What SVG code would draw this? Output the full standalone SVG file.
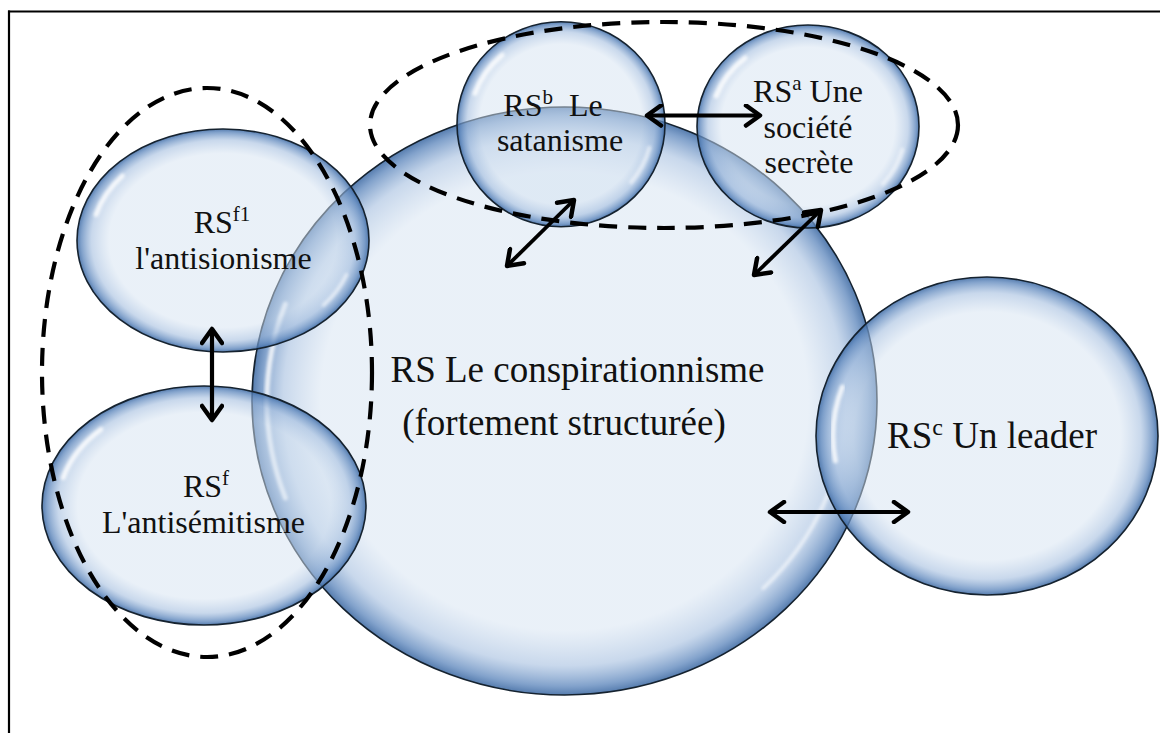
<svg xmlns="http://www.w3.org/2000/svg" width="1160" height="733" viewBox="0 0 1160 733">
<defs>
<radialGradient id="bub" cx="50%" cy="50%" r="50%">
<stop offset="0" stop-color="#d4e2f1" stop-opacity="0.5"/>
<stop offset="0.78" stop-color="#d4e2f1" stop-opacity="0.5"/>
<stop offset="0.9" stop-color="#a4bedf" stop-opacity="0.6"/>
<stop offset="0.97" stop-color="#5f88bd" stop-opacity="0.78"/>
<stop offset="1" stop-color="#3e6aa3" stop-opacity="0.88"/>
</radialGradient>
<filter id="soft" x="-20%" y="-20%" width="140%" height="140%"><feGaussianBlur stdDeviation="1.6"/></filter>
<marker id="ah" viewBox="0 0 20 24" refX="17" refY="12" markerWidth="20" markerHeight="24" markerUnits="userSpaceOnUse" orient="auto-start-reverse">
<path d="M3,2 L17,12 L3,22" fill="none" stroke="#000" stroke-width="4.5" stroke-linecap="round" stroke-linejoin="round"/>
</marker>
</defs>
<style>
.bub{fill:url(#bub);stroke:#15222f;stroke-width:1.6}
.hl{fill:none;stroke:#fff;stroke-width:5;stroke-linecap:round;opacity:0.8;filter:url(#soft)}
.hl2{fill:none;stroke:#fff;stroke-width:4;stroke-linecap:round;opacity:0.55;filter:url(#soft)}
.dash{fill:none;stroke:#000;stroke-width:4.2;stroke-dasharray:18 11}
.arr{fill:none;stroke:#000;stroke-width:4.2;marker-start:url(#ah);marker-end:url(#ah)}
.t{font-family:"Liberation Serif","Times New Roman",serif;fill:#111;text-anchor:middle;font-size:32px}
.tb{font-size:37px}
</style>
<rect width="1160" height="733" fill="#fff"/>
<g id="frame" stroke="#000" stroke-width="2.2" fill="none">
<line x1="8" y1="11.5" x2="1160" y2="11.5"/>
<line x1="9" y1="10.5" x2="9" y2="733"/>
</g>

<g id="rs-conspirationnisme">
<ellipse class="bub" cx="564.5" cy="401" rx="312.5" ry="294"/>
<path class="hl" d="M285.4,498 A296.9 279.3 0 0 1 285.4,304"/>
<path class="hl2" d="M828.9,491.5 A281.25 264.6 0 0 1 763.4,588.1"/>
</g>
<g id="rs-f1">
<ellipse class="bub" cx="223" cy="240.5" rx="146" ry="111.5"/>
<path class="hl" d="M96.1,214.5 A131.4 100.35 0 0 1 122.3,176"/>
<path class="hl2" d="M346.5,274.8 A131.4 100.35 0 0 1 323.7,305"/>
</g>
<g id="rs-f">
<ellipse class="bub" cx="204" cy="505.5" rx="162" ry="119.5"/>
<path class="hl" d="M63.2,477.6 A145.8 107.55 0 0 1 100.9,429.5"/>
</g>
<g id="rs-b">
<ellipse class="bub" cx="561" cy="124.2" rx="104" ry="102.5"/>
<path class="hl" d="M475,93.4 A91.5 90.2 0 0 1 502.2,55.1"/>
<path class="hl2" d="M649.4,147.6 A91.5 90.2 0 0 1 631.1,182.2"/>
</g>
<g id="rs-a">
<ellipse class="bub" cx="808" cy="126.5" rx="111" ry="101.5"/>
<path class="hl" d="M716.2,96 A97.7 89.3 0 0 1 745.2,58.1"/>
<path class="hl2" d="M902.4,149.6 A97.7 89.3 0 0 1 882.8,183.9"/>
</g>
<g id="rs-c">
<ellipse class="bub" cx="987" cy="436" rx="171" ry="159"/>
<path class="hl" d="M835.4,460.9 A153.9 143.1 0 0 1 842.3,387.1"/>
</g>

<g id="groups">
<ellipse class="dash" cx="207" cy="372.5" rx="165" ry="284.5"/>
<ellipse class="dash" cx="664" cy="125" rx="294" ry="103"/>
</g>

<g id="connectors">
<line class="arr" x1="647" y1="115.5" x2="760" y2="115.5"/>
<line class="arr" x1="574" y1="200" x2="507" y2="266" style="stroke-width:3.8"/>
<line class="arr" x1="821" y1="210" x2="754" y2="275" style="stroke-width:3.8"/>
<line class="arr" x1="212" y1="329" x2="212" y2="420"/>
<line class="arr" x1="770" y1="512" x2="908" y2="512"/>
</g>

<g id="labels">
<text class="t" x="553" y="116">RS<tspan font-size="21" dy="-12">b</tspan><tspan dy="12" xml:space="preserve">  Le</tspan></text>
<text class="t" x="560" y="151">satanisme</text>
<text class="t" x="808" y="102">RS<tspan font-size="21" dy="-12">a</tspan><tspan dy="12"> Une</tspan></text>
<text class="t" x="808" y="138">société</text>
<text class="t" x="809" y="173">secrète</text>
<text class="t" x="222" y="233">RS<tspan font-size="21" dy="-12">f1</tspan></text>
<text class="t" x="223.5" y="269">l'antisionisme</text>
<text class="t" x="206" y="497">RS<tspan font-size="21" dy="-12">f</tspan></text>
<text class="t" x="203.5" y="533">L'antisémitisme</text>
<text class="t tb" x="577.5" y="382">RS Le conspirationnisme</text>
<text class="t tb" x="564" y="435">(fortement structurée)</text>
<text class="t tb" x="992" y="448">RS<tspan font-size="24" dy="-13">c</tspan><tspan dy="13"> Un leader</tspan></text>
</g>
</svg>
